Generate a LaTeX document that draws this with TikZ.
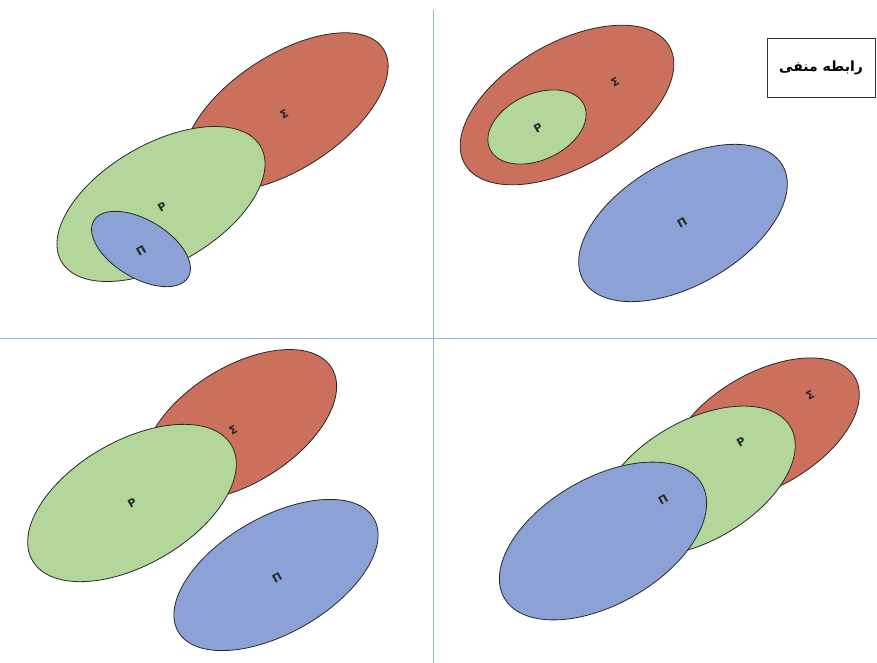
\documentclass[tikz,border=0pt]{standalone}
\usepackage{fontspec}
\newfontfamily\arabicfont[Script=Arabic]{DejaVu Sans}
\newfontfamily\greekfont{DejaVu Sans}
\TeXXeTstate=1
\definecolor{sred}{RGB}{203,112,92}
\definecolor{sgreen}{RGB}{179,214,155}
\definecolor{sblue}{RGB}{140,162,214}
\definecolor{divline}{RGB}{150,180,225}
\definecolor{edge}{RGB}{40,40,40}
\tikzset{
  setred/.style={fill=sred,draw=edge,line width=0.8pt},
  setgreen/.style={fill=sgreen,draw=edge,line width=0.8pt},
  setblue/.style={fill=sblue,draw=edge,line width=0.8pt},
  lab/.style={font=\greekfont\bfseries\fontsize{11}{11}\selectfont,text=black!85,rotate=30,inner sep=0pt},
  divider/.style={draw=divline,line width=0.8pt}
}
\begin{document}
\begin{tikzpicture}[x=1pt,y=-1pt]
\fill[white] (0,0) rectangle (877,663);
\useasboundingbox (0,0) rectangle (877,663);
% dividers
\coordinate (vtop) at (433,10);
\coordinate (vbot) at (433,663);
\coordinate (hl) at (0,338);
\coordinate (hr) at (877,338);
\draw[divider] (vtop) -- (vbot);
\draw[divider] (hl) -- (hr);
% top-left
\draw[setred,shift={(286,112)},rotate=33] (0,0) ellipse (116pt and 57pt);
\draw[setgreen,shift={(161,204)},rotate=30] (0,0) ellipse (115pt and 60pt);
\draw[setblue,shift={(141,249)},rotate=-31] (0,0) ellipse (55pt and 29pt);
\node[lab] (tlS) at (284,114) {Σ};
\node[lab] (tlP) at (162,207) {Ρ};
\node[lab] (tlPi) at (141,251) {Π};
% top-right
\draw[setred,shift={(567,105)},rotate=30] (0,0) ellipse (118pt and 62pt);
\draw[setgreen,shift={(537,127)},rotate=25] (0,0) ellipse (52pt and 33pt);
\draw[setblue,shift={(683,223)},rotate=30] (0,0) ellipse (115pt and 62pt);
\node[lab] (trS) at (615,82) {Σ};
\node[lab] (trP) at (538,128) {Ρ};
\node[lab] (trPi) at (682,223) {Π};
% bottom-left
\draw[setred,shift={(240,425)},rotate=32] (0,0) ellipse (108pt and 58pt);
\draw[setgreen,shift={(132,503)},rotate=30] (0,0) ellipse (115pt and 62pt);
\draw[setblue,shift={(276,575)},rotate=30] (0,0) ellipse (113pt and 58pt);
\node[lab] (blS) at (233,430) {Σ};
\node[lab] (blP) at (132,503) {Ρ};
\node[lab] (blPi) at (277,578) {Π};
% bottom-right
\draw[setred,shift={(764,430)},rotate=30] (0,0) ellipse (105pt and 57pt);
\draw[setgreen,shift={(697,481)},rotate=30] (0,0) ellipse (108pt and 60pt);
\draw[setblue,shift={(603,541)},rotate=30] (0,0) ellipse (114pt and 63pt);
\node[lab] (brS) at (810,395) {Σ};
\node[lab] (brP) at (741,442) {Ρ};
\node[lab] (brPi) at (663,500) {Π};
% title box
\draw[draw=black!80,line width=0.9pt,fill=white] (767,38) rectangle (875,97);
\node[font=\arabicfont\bfseries\fontsize{14}{14}\selectfont,inner sep=0pt] (title) at (821,68) {\beginR رابطه منفی\endR};
\end{tikzpicture}
\end{document}
